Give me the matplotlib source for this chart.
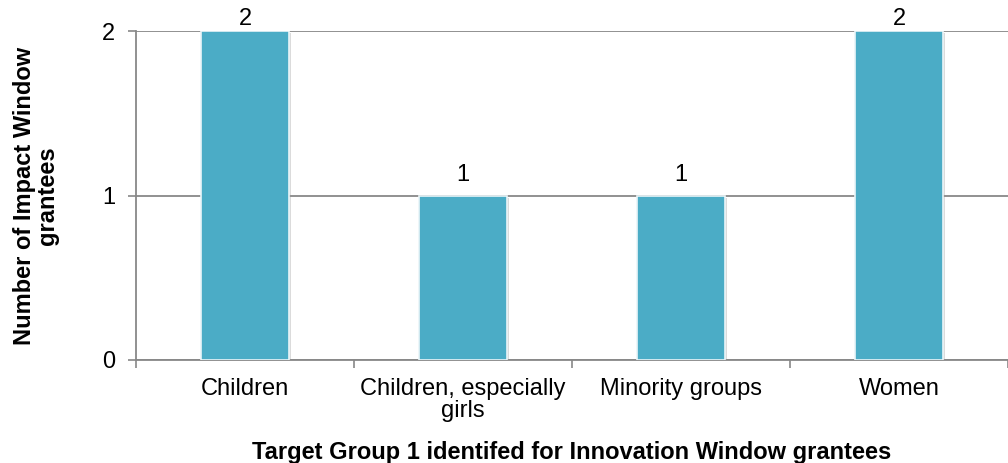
import numpy as np
import matplotlib
matplotlib.use("Agg")
import matplotlib.pyplot as plt
import matplotlib.patheffects as pe

categories = ["Children", "Children, especially\ngirls", "Minority groups", "Women"]
counts = [2, 1, 1, 2]
yticks = [0, 1, 2]

plt.rcParams['font.family'] = ['Liberation Sans', 'DejaVu Sans']
fs = 17

fig = plt.figure(figsize=(10.08, 4.63), dpi=100)
ax = fig.add_axes([136 / 1008, 1 - 360 / 463, 1 - 136 / 1008, (360 - 31) / 463])

x = np.arange(len(categories))
bars = ax.bar(x, counts, width=0.4, color='#4BACC6', edgecolor='#eaf5f8',
              linewidth=1.2, zorder=3)
for b in bars:
    b.set_path_effects([pe.SimplePatchShadow(offset=(1.5, -1.5), shadow_rgbFace='#999999', alpha=0.35),
                        pe.Normal()])

ymax = max(yticks)
# labels at the top of the plot area get pushed down, like the original
for b, c in zip(bars, counts):
    pad = 1 if c >= ymax else 7
    ax.annotate(str(c), (b.get_x() + b.get_width() / 2, c), xytext=(0, pad),
                textcoords='offset points', ha='center', va='bottom', fontsize=fs)

ax.set_xlim(-0.5, len(categories) - 0.5)
ax.set_ylim(0, ymax)
ax.set_yticks(yticks)
ax.set_yticklabels([str(t) for t in yticks], fontsize=fs)

# tick marks between categories, labels under the bars
ax.set_xticks(np.arange(len(categories) + 1) - 0.5)
ax.set_xticklabels([])
ax.set_xticks(x, minor=True)
ax.set_xticklabels(categories, minor=True, fontsize=fs, linespacing=1.0)
ax.tick_params(axis='x', which='minor', length=0, pad=13)
ax.tick_params(axis='x', which='major', length=6, width=1.2, color='#888888', direction='out')
ax.tick_params(axis='y', length=6, width=1.2, color='#888888', pad=9)

ax.grid(axis='y', color='#888888', linewidth=1.3, zorder=0)
ax.set_axisbelow(True)
for s in ['top', 'right']:
    ax.spines[s].set_visible(False)
for s in ['left', 'bottom']:
    ax.spines[s].set_color('#888888')
    ax.spines[s].set_linewidth(1.3)

ax.set_xlabel("Target Group 1 identifed for Innovation Window grantees",
              fontsize=fs, fontweight='bold', labelpad=14)
ax.set_ylabel("Number of Impact Window\ngrantees", fontsize=fs, fontweight='bold',
              labelpad=31, linespacing=1.0)

fig.savefig("out.png", dpi=100)
